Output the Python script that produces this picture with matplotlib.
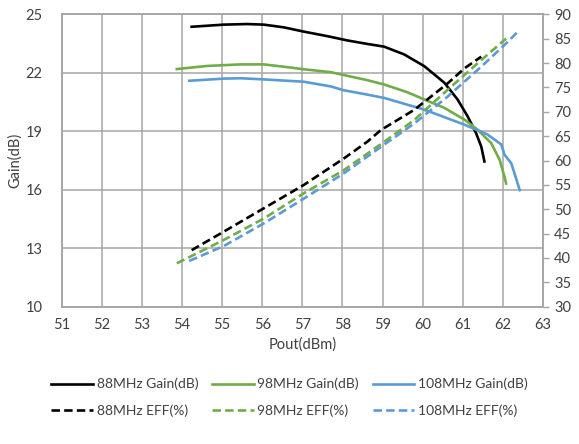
import matplotlib.pyplot as plt

plt.rcParams['font.family'] = ['Lato', 'DejaVu Sans']

# ---------------- data ----------------
pout_88_gain = [54.24, 55.04, 55.62, 56.04, 56.54, 57.04, 57.62, 58.12, 58.62, 59.04,
                59.54, 60.04, 60.54, 60.87, 61.12, 61.33, 61.46, 61.54]
gain_88 = [24.36, 24.47, 24.50, 24.47, 24.33, 24.11, 23.88, 23.66, 23.48, 23.34,
           22.94, 22.34, 21.49, 20.63, 19.77, 18.91, 18.22, 17.45]

pout_98_gain = [53.87, 54.62, 55.46, 56.04, 56.54, 57.04, 57.71, 58.62, 59.04, 59.62,
                60.04, 60.54, 61.04, 61.37, 61.71, 61.92, 62.04, 62.08]
gain_98 = [22.19, 22.35, 22.43, 22.43, 22.31, 22.18, 22.03, 21.62, 21.40, 21.0,
           20.63, 20.2, 19.6, 19.08, 18.39, 17.53, 16.67, 16.32]

pout_108_gain = [54.18, 55.04, 55.46, 56.04, 57.04, 57.71, 58.04, 58.62, 59.04, 60.04,
                 61.04, 61.62, 61.96, 62.04, 62.21, 62.29, 62.42]
gain_108 = [21.59, 21.70, 21.72, 21.66, 21.54, 21.3, 21.1, 20.88, 20.71, 20.11,
            19.34, 18.83, 18.32, 17.8, 17.35, 16.84, 15.98]

pout_88_eff = [54.24, 55.04, 56.04, 57.04, 58.04, 58.62, 58.96, 59.79, 60.62, 61.04, 61.46]
eff_88 = [41.6, 45.4, 50.2, 55.0, 60.45, 63.86, 66.26, 70.4, 75.8, 78.9, 81.3]

pout_98_eff = [53.87, 55.04, 56.04, 57.04, 58.04, 59.0, 59.79, 60.62, 61.46, 62.08]
eff_98 = [38.9, 43.7, 48.1, 53.3, 58.05, 63.6, 68.3, 74.5, 80.6, 85.0]

pout_108_eff = [54.18, 55.04, 56.04, 57.04, 58.04, 58.96, 59.79, 60.62, 61.46, 62.04, 62.37]
eff_108 = [39.4, 42.45, 47.1, 52.2, 57.4, 62.8, 67.6, 73.1, 79.25, 83.7, 86.4]

x_ticks = list(range(51, 64))
gain_ticks = [10, 13, 16, 19, 22, 25]
eff_ticks = list(range(30, 91, 5))

BLACK = '#000000'
GREEN = '#70AD47'
BLUE = '#5B9BD5'
GRID = '#A6A6A6'
TEXT = '#404040'

# ---------------- figure ----------------
fig = plt.figure(figsize=(5.79, 4.44), dpi=100)
ax = fig.add_axes([0.1066, 0.3092, 0.8312, 0.6586])
ax2 = ax.twinx()

lw = 1.9
dash = (0, (3.2, 1.6))

l1, = ax.plot(pout_88_gain, gain_88, color=BLACK, lw=lw, label='88MHz Gain(dB)')
l2, = ax.plot(pout_98_gain, gain_98, color=GREEN, lw=lw, label='98MHz Gain(dB)')
l3, = ax.plot(pout_108_gain, gain_108, color=BLUE, lw=lw, label='108MHz Gain(dB)')
l4, = ax2.plot(pout_88_eff, eff_88, color=BLACK, lw=lw, ls=dash, label='88MHz EFF(%)')
l5, = ax2.plot(pout_98_eff, eff_98, color=GREEN, lw=lw, ls=dash, label='98MHz EFF(%)')
l6, = ax2.plot(pout_108_eff, eff_108, color=BLUE, lw=lw, ls=dash, label='108MHz EFF(%)')

ax.set_xlim(51, 63)
ax.set_ylim(10, 25)
ax2.set_ylim(30, 90)
ax.set_xticks(x_ticks)
ax.set_yticks(gain_ticks)
ax2.set_yticks(eff_ticks)

ax.grid(True, color=GRID, lw=1.1)
ax.set_axisbelow(True)
ax.tick_params(axis='both', length=0, labelsize=10.5, colors=TEXT, pad=8)
ax.tick_params(axis='y', pad=14)
ax2.tick_params(axis='y', length=4, width=1, color=GRID, labelsize=10.5,
                labelcolor=TEXT, pad=4)
for a in (ax, ax2):
    for s in a.spines.values():
        s.set_color(GRID)
        s.set_linewidth(1.1)

ax.set_xlabel('Pout(dBm)', fontsize=10.5, color=TEXT, labelpad=4)
ax.set_ylabel('Gain(dB)', fontsize=10.5, color=TEXT, labelpad=2)

fig.legend(handles=[l1, l4, l2, l5, l3, l6], ncol=3, loc='center',
           bbox_to_anchor=(0.5, 0.105), frameon=False, fontsize=10,
           handlelength=3.0, handletextpad=0.25, columnspacing=1.0,
           labelspacing=1.0, labelcolor=TEXT)

fig.savefig('out.png', dpi=100)
